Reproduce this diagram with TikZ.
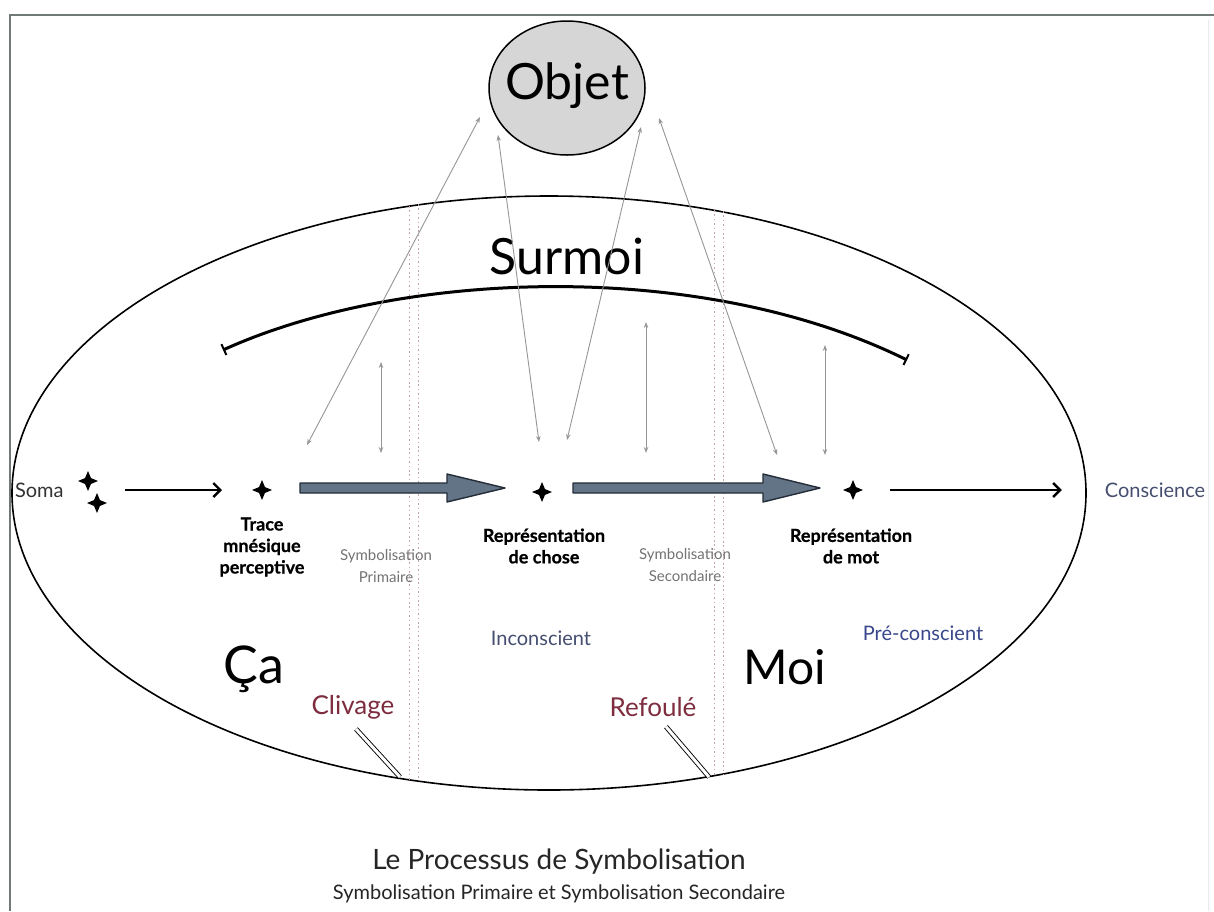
\documentclass[tikz,border=0pt]{standalone}
\usepackage{fontspec}
\setmainfont{Lato}
\usetikzlibrary{shapes.geometric,arrows.meta,calc}
\definecolor{framegray}{RGB}{112,122,120}
\definecolor{objfill}{RGB}{214,214,214}
\definecolor{thin}{RGB}{150,150,150}
\definecolor{sepcol}{RGB}{200,165,165}
\definecolor{bigfill}{RGB}{98,116,134}
\definecolor{bigdraw}{RGB}{36,44,56}
\definecolor{maroon}{RGB}{125,45,62}
\definecolor{bluegray}{RGB}{70,78,112}
\definecolor{preblue}{RGB}{58,72,140}
\definecolor{symgray}{RGB}{115,115,115}
\begin{document}
\begin{tikzpicture}[x=1pt,y=-1pt,
  every node/.style={inner sep=0pt,outer sep=0pt},
  starmark/.style={star,star points=4,star point ratio=2.4,fill=black,minimum size=20pt},
  thinarrow/.style={draw=thin,line width=0.9pt,{Stealth[length=6pt,width=4.5pt]}-{Stealth[length=6pt,width=4.5pt]}},
  blackarrow/.style={line width=2.4pt,-{Straight Barb[length=7pt,width=14pt]}},
  sepline/.style={draw=sepcol,line width=1pt,dash pattern=on 1.6pt off 2.8pt},
  bigarrow/.style={fill=bigfill,draw=bigdraw,line width=1.4pt,line join=round},
  boldlbl/.style={font=\bfseries\addfontfeature{FakeBold=0.6}\fontsize{18}{21.5}\selectfont,align=center},
  symlbl/.style={font=\fontsize{15}{22}\selectfont,align=center,text=symgray},
  midlbl/.style={font=\fontsize{20}{24}\selectfont},
  biglbl/.style={font=\fontsize{50}{50}\selectfont},
  redlbl/.style={font=\fontsize{26}{26}\selectfont,text=maroon}]
\useasboundingbox (0,0) rectangle (1214,911);
\fill[white] (0,0) rectangle (1214,911);

% page frame
\draw[framegray,line width=2.2pt] (10,911) -- (10,15) -- (1214,15);
\draw[black!8,line width=1pt] (1208,20) -- (1208,911);

% psychic apparatus
\draw[line width=1.6pt] (549,493) ellipse [x radius=537pt,y radius=297pt];

% separation lines (splitting / repression)
\draw[sepline] (409,206) -- (409,780);
\draw[sepline] (418,204) -- (418,779);
\draw[sepline] (714,210) -- (714,776);
\draw[sepline] (723,211) -- (723,775);

% object
\node[ellipse,draw,fill=objfill,line width=1.5pt,minimum width=156pt,minimum height=134pt] (objet) at (567,88) {};
\node[biglbl] at (567,86) {Objet};

% superego
\node[biglbl] (surmoi) at (567,256) {Surmoi};
\coordinate (arcL) at (223,350);
\coordinate (arcR) at (907,360);
\draw[line width=3pt,{Bar[width=12pt,line width=2pt]}-{Bar[width=12pt,line width=2pt]}] (arcL) .. controls (400,270) and (700,258) .. (arcR);

% stars of the chain
\node[starmark] (soma1) at (88,481) {};
\node[starmark] (soma2) at (97,503) {};
\node[starmark] (trace) at (262,490) {};
\node[starmark] (chose) at (542,492) {};
\node[starmark] (mot) at (853,490) {};

% thin links with the object
\coordinate (a1) at (307,445); \coordinate (o1) at (480,117);
\coordinate (a2) at (539,442); \coordinate (o2) at (498,135);
\coordinate (a3) at (567,440); \coordinate (o3) at (641,127);
\coordinate (a4) at (777,455); \coordinate (o4) at (659,118);
\draw[thinarrow] (a1) -- (o1);
\draw[thinarrow] (a2) -- (o2);
\draw[thinarrow] (a3) -- (o3);
\draw[thinarrow] (a4) -- (o4);

% vertical exchanges with the superego
\coordinate (v1t) at (381,362); \coordinate (v1b) at (381,453);
\coordinate (v2t) at (646,322); \coordinate (v2b) at (646,453);
\coordinate (v3t) at (825,345); \coordinate (v3b) at (825,455);
\draw[thinarrow] (v1t) -- (v1b);
\draw[thinarrow] (v2t) -- (v2b);
\draw[thinarrow] (v3t) -- (v3b);

% main chain
\node[midlbl,text=black!80,anchor=west] (soma) at (15,490) {Soma};
\node[midlbl,text=bluegray] (conscience) at (1155,490) {Conscience};
\draw[blackarrow] ($(trace)+(-137,0)$) -- ($(trace)+(-40,0)$);
\draw[blackarrow] ($(mot)+(37,0)$) -- ($(conscience.west)+(-43,0)$);

% symbolisation arrows
\path let \p1=($(trace)+(38,-2)$), \p2=($(chose)+(-37,-4)$) in
  [bigarrow] (\x1,\y1+5pt) -- (\x2-58pt,\y1+5pt) -- (\x2-58pt,\y1+14pt) -- (\x2,\y1)
  -- (\x2-58pt,\y1-14pt) -- (\x2-58pt,\y1-5pt) -- (\x1,\y1-5pt) -- cycle;
\path let \p1=($(chose)+(31,-4)$), \p2=($(mot)+(-33,-2)$) in
  [bigarrow] (\x1,\y1+5pt) -- (\x2-57pt,\y1+5pt) -- (\x2-57pt,\y1+14pt) -- (\x2,\y1)
  -- (\x2-57pt,\y1-14pt) -- (\x2-57pt,\y1-5pt) -- (\x1,\y1-5pt) -- cycle;

% labels of the chain
\node[boldlbl] at (262,547) {Trace\\mnésique\\perceptive};
\node[boldlbl] at (544,546) {Représentation\\de chose};
\node[boldlbl] at (851,546) {Représentation\\de mot};
\node[symlbl] at (386,566) {Symbolisation\\Primaire};
\node[symlbl] at (685,565) {Symbolisation\\Secondaire};

% systems
\node[midlbl,text=bluegray] at (541,638) {Inconscient};
\node[midlbl,text=preblue] at (923,633) {Pré-conscient};
\node[biglbl,font=\fontsize{52}{52}\selectfont] at (254,669) {Ça};
\node[biglbl,font=\fontsize{48}{48}\selectfont] at (785,667) {Moi};

% splitting and repression
\node[redlbl] (clivage) at (353,707) {Clivage};
\node[redlbl] (refoule) at (653,707) {Refoulé};
\draw[line width=0.9pt,double,double distance=3pt] ($(clivage.south)+(3,10)$) -- (400,777);
\draw[line width=0.9pt,double,double distance=3pt] ($(refoule.south)+(13,10)$) -- (709,777);

% title
\node[font=\fontsize{28}{28}\selectfont,text=black!85] at (559,862) {Le Processus de Symbolisation};
\node[font=\fontsize{20}{20}\selectfont,text=black!85] at (559,894) {Symbolisation Primaire et Symbolisation Secondaire};
\end{tikzpicture}
\end{document}
